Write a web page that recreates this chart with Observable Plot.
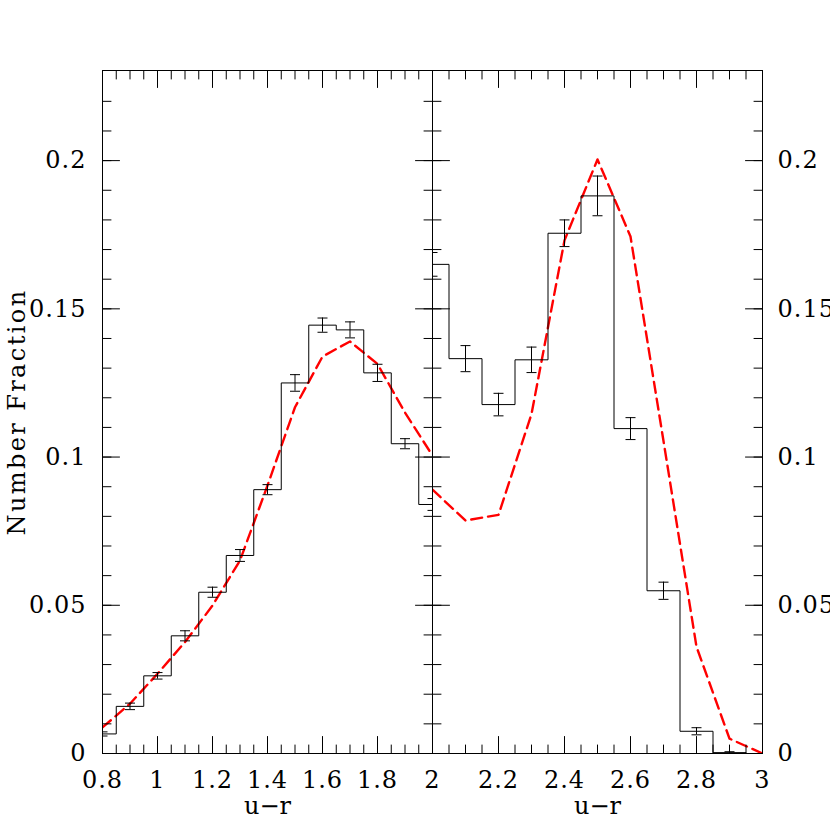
<!DOCTYPE html>
<html><head><meta charset="utf-8">
<script src="https://cdn.jsdelivr.net/npm/d3@7"></script>
<script src="https://cdn.jsdelivr.net/npm/@observablehq/plot@0.6"></script>
<style>
body{margin:0;overflow:hidden;background:#fff}
#wrap{position:relative;width:830px;height:830px;background:#fff}
#wrap svg{position:absolute;left:0;top:0}
</style>
</head><body><div id="wrap"></div>
<script>
// ---- data ----
const binsLeft  = [0.8, 0.9, 1.0, 1.1, 1.2, 1.3, 1.4, 1.5, 1.6, 1.7, 1.8, 1.9, 2.0];
const fracLeft  = [0.0066, 0.0159, 0.0262, 0.0397, 0.0544, 0.0668, 0.0890, 0.1250, 0.1445, 0.1429, 0.1284, 0.1045, 0.0840];
const errLeft   = [0.0007, 0.0011, 0.0011, 0.0017, 0.0017, 0.0020, 0.0017, 0.0028, 0.0024, 0.0027, 0.0029, 0.0017, 0.0020];
const modelLeft = [0.0088, 0.0168, 0.0269, 0.0376, 0.0499, 0.0651, 0.0904, 0.1168, 0.1339, 0.1390, 0.1314, 0.1150, 0.1005];

const binsRight  = [2.0, 2.1, 2.2, 2.3, 2.4, 2.5, 2.6, 2.7, 2.8, 2.9, 3.0];
const fracRight  = [0.1650, 0.1332, 0.1177, 0.1328, 0.1755, 0.1881, 0.1096, 0.0549, 0.0075, 0.0003, 0.0];
const errRight   = [0.0040, 0.0044, 0.0038, 0.0043, 0.0045, 0.0067, 0.0037, 0.0029, 0.0012, 0.0003, 0.0];
const modelRight = [0.0890, 0.0786, 0.0805, 0.1145, 0.1731, 0.2004, 0.1744, 0.1054, 0.0360, 0.0050, 0.0];

const xLabelsLeft  = [0.8, 1, 1.2, 1.4, 1.6, 1.8, 2];
const xLabelsRight = [2.2, 2.4, 2.6, 2.8, 3];
const yLabels = [0, 0.05, 0.1, 0.15, 0.2];
const xTitle = "u\u2212r";
const yTitle = "Number Fraction";

// ---- layout ----
const W = 830, H = 830, MT = 70, MB = 77;
const yDomain = [0, 0.2304];
const binWidth = 0.1;
const FONT = "DejaVu Serif";

const tickLine = {draw(ctx, l) { ctx.moveTo(0, 0); ctx.lineTo(0, -l); }};
const capShape = {draw(ctx) { ctx.moveTo(-5, 0); ctx.lineTo(5, 0); }};

function panel({xDomain, marginLeft, marginRight, bins, frac, err, model, xLabels, yLabelSide, extra}) {
  const steps = bins.flatMap((c, i) => [
    {x: Math.max(c - binWidth / 2, xDomain[0]), y: frac[i]},
    {x: Math.min(c + binWidth / 2, xDomain[1]), y: frac[i]}
  ]);
  const bars = bins.map((c, i) => ({x: c, lo: frac[i] - err[i], hi: frac[i] + err[i]})).filter(d => d.hi > d.lo);
  const modelPts = bins.map((c, i) => ({x: c, y: model[i]}));
  const k0 = Math.round(xDomain[0] / 0.05), k1 = Math.round(xDomain[1] / 0.05);
  const xMinor = d3.range(k0, k1 + 1).map(k => +(k * 0.05).toFixed(2));
  const xMajor = xMinor.filter(v => Math.abs(v / 0.2 - Math.round(v / 0.2)) < 1e-6);
  const yMinor = d3.range(0, 23).map(k => k / 100);
  const tk = {anchor: "start", shape: tickLine, stroke: "black", strokeWidth: 1};
  return Plot.plot({
    width: W, height: H,
    marginLeft, marginRight, marginTop: MT, marginBottom: MB,
    x: {domain: xDomain, axis: null},
    y: {domain: yDomain, axis: null},
    style: {fontFamily: FONT, fontSize: "24px", background: "transparent", color: "black"},
    marks: [
      Plot.line(modelPts, {x: "x", y: "y", stroke: "#ff0000", strokeWidth: 2.4, strokeDasharray: "11,6", clip: "frame"}),
      Plot.line(steps, {x: "x", y: "y", stroke: "black", strokeWidth: 1, clip: "frame"}),
      Plot.ruleX(bars, {x: "x", y1: "lo", y2: "hi", stroke: "black", strokeWidth: 1, clip: "frame"}),
      Plot.dot(bars, {x: "x", y: "lo", symbol: capShape, r: 5, fill: "none", stroke: "black", strokeWidth: 1, clip: "frame"}),
      Plot.dot(bars, {x: "x", y: "hi", symbol: capShape, r: 5, fill: "none", stroke: "black", strokeWidth: 1, clip: "frame"}),
      // ticks
      Plot.vector(xMinor, {x: d => d, frameAnchor: "bottom", rotate: 0, length: 8.5, ...tk}),
      Plot.vector(xMajor, {x: d => d, frameAnchor: "bottom", rotate: 0, length: 17, ...tk}),
      Plot.vector(xMinor, {x: d => d, frameAnchor: "top", rotate: 180, length: 8.5, ...tk}),
      Plot.vector(xMajor, {x: d => d, frameAnchor: "top", rotate: 180, length: 17, ...tk}),
      Plot.vector(yMinor, {y: d => d, frameAnchor: "left", rotate: 90, length: 8.5, ...tk}),
      Plot.vector(yLabels, {y: d => d, frameAnchor: "left", rotate: 90, length: 17, ...tk}),
      Plot.vector(yMinor, {y: d => d, frameAnchor: "right", rotate: -90, length: 8.5, ...tk}),
      Plot.vector(yLabels, {y: d => d, frameAnchor: "right", rotate: -90, length: 17, ...tk}),
      Plot.frame({stroke: "black", strokeWidth: 1}),
      // labels
      Plot.text(xLabels, {x: d => d, text: d => String(d), frameAnchor: "bottom", dy: 27, lineAnchor: "middle", fill: "black"}),
      Plot.text(yLabels, yLabelSide === "left"
        ? {y: d => d, text: d => String(d), frameAnchor: "left", dx: -16, textAnchor: "end", lineAnchor: "middle", fill: "black"}
        : {y: d => d, text: d => String(d), frameAnchor: "right", dx: 15, textAnchor: "start", lineAnchor: "middle", fill: "black"}),
      Plot.text([xTitle], {text: d => d, frameAnchor: "bottom", dy: 53, lineAnchor: "middle", fill: "black"}),
      ...(extra || [])
    ]
  });
}

const left = panel({
  xDomain: [0.8, 2.0], marginLeft: 102, marginRight: W - 432,
  bins: binsLeft, frac: fracLeft, err: errLeft, model: modelLeft,
  xLabels: xLabelsLeft, yLabelSide: "left",
  extra: [Plot.text([yTitle], {text: d => d, frameAnchor: "left", dx: -85, rotate: -90, textAnchor: "middle", lineAnchor: "middle", fill: "black"})]
});
const right = panel({
  xDomain: [2.0, 3.0], marginLeft: 432, marginRight: W - 762,
  bins: binsRight, frac: fracRight, err: errRight, model: modelRight,
  xLabels: xLabelsRight, yLabelSide: "right"
});
// wider letter spacing to mimic the original plotting font
for (const svg of [left, right]) {
  d3.select(svg).selectAll("text").each(function() {
    const t = this.textContent;
    if (t === yTitle) d3.select(this).attr("letter-spacing", "2.4px");
    else if (t !== xTitle) d3.select(this).attr("letter-spacing", "1px");
  });
}
const wrap = document.getElementById("wrap");
wrap.appendChild(left);
wrap.appendChild(right);
</script>
</body></html>
